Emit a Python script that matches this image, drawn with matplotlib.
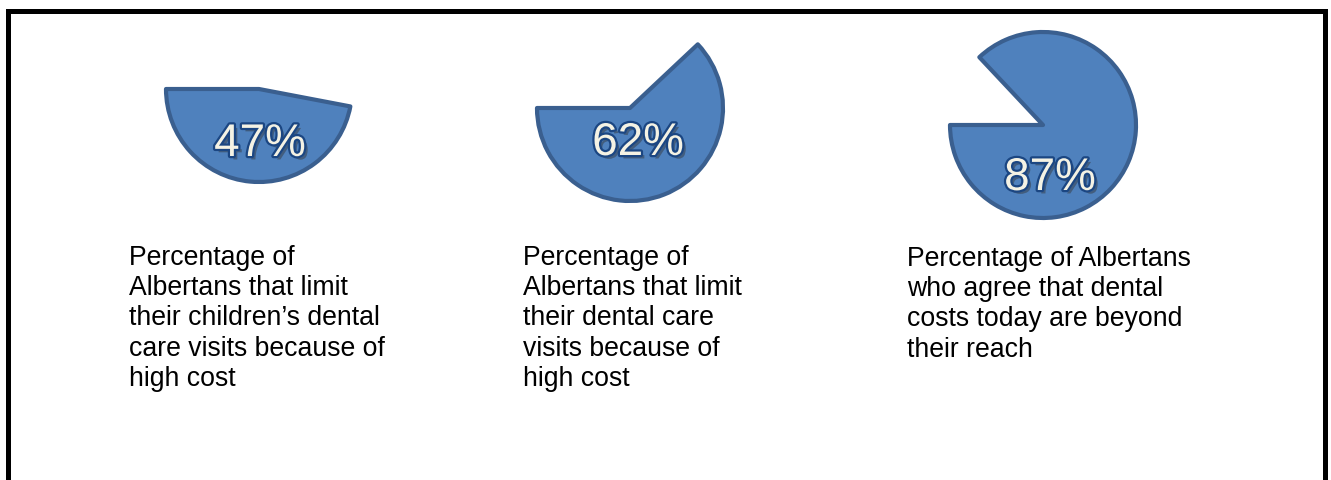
import matplotlib
matplotlib.use("Agg")
import matplotlib.pyplot as plt
import matplotlib.patheffects as pe
from matplotlib.patches import Rectangle

# Data
percentages = [47, 62, 87]
pct_labels = ["47%", "62%", "87%"]
descriptions = [
    "Percentage of\nAlbertans that limit\ntheir children\u2019s dental\ncare visits because of\nhigh cost",
    "Percentage of\nAlbertans that limit\ntheir dental care\nvisits because of\nhigh cost",
    "Percentage of Albertans\nwho agree that dental\ncosts today are beyond\ntheir reach",
]

W, H = 1331, 481
fig = plt.figure(figsize=(W / 100, H / 100), dpi=100)
ax = fig.add_axes([0, 0, 1, 1])

plt.rcParams['font.family'] = ['Liberation Sans', 'DejaVu Sans']

fill = "#4F81BD"
edge = "#3A5F8F"

centers_px = [(259, 90), (630, 109), (1043, 126)]
radius = 93
pct_pos_px = [(260, 145), (638, 144), (1050, 179)]
desc_pos_px = [(129, 245), (523, 245), (907, 246)]

for p, (cx, cy), lab, (tx, ty), desc, (dx, dy) in zip(
        percentages, centers_px, pct_labels, pct_pos_px, descriptions, desc_pos_px):
    wedges, _ = ax.pie([p, 100 - p], startangle=180, counterclock=True,
                       center=(cx, H - cy), radius=radius,
                       colors=[fill, "none"],
                       wedgeprops=dict(linewidth=3, edgecolor=edge, joinstyle="round"))
    wedges[1].set_visible(False)
    ax.text(tx, H - ty, lab, ha="center", va="center", fontsize=33,
            color="#F4F2E4", family=['Liberation Sans', 'DejaVu Sans'],
            path_effects=[pe.SimplePatchShadow(offset=(2.5, -2.5), shadow_rgbFace="#333333", alpha=0.45),
                          pe.Stroke(linewidth=3.2, foreground="#1B4682"),
                          pe.Normal()])
    ax.text(dx, H - dy, desc, ha="left", va="top", fontsize=19.2,
            color="black", linespacing=1.21,
            family=['Liberation Sans', 'DejaVu Sans'])

# Outer frame
ax.add_patch(Rectangle((7.5, -20), 1317, H - 12 + 20, fill=False,
                       edgecolor="black", linewidth=3.6, joinstyle="miter"))

ax.set_xlim(0, W)
ax.set_ylim(0, H)
ax.set_aspect("auto")
ax.axis("off")

fig.savefig("out.png", dpi=100)
